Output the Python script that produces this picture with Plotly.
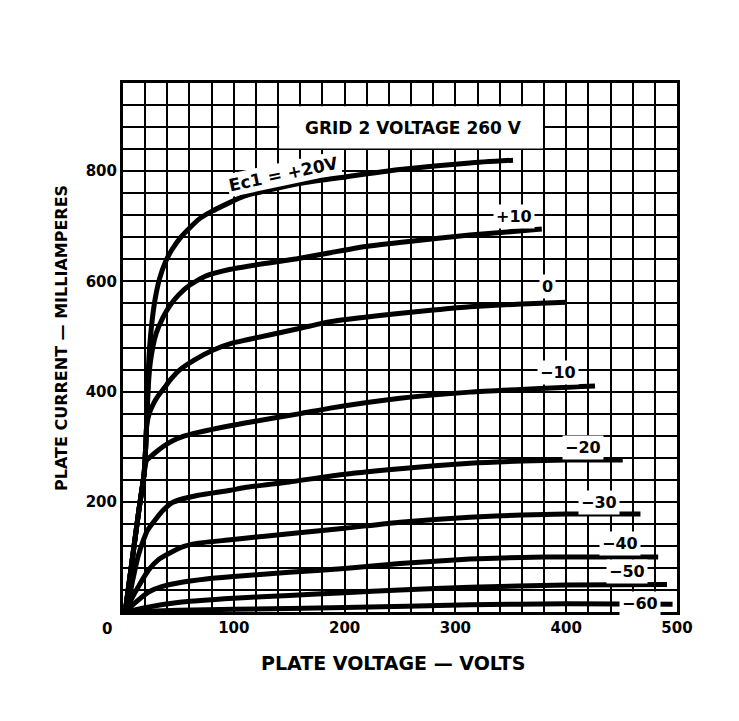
import plotly.graph_objects as go

# ---- data (plate voltage V, plate current mA) ----
v_p20 = [2, 8, 14, 19, 20.5, 21.5, 22.6, 24, 26, 29, 33, 38, 44, 53, 68, 80, 110, 160, 202, 250, 313, 352]
i_p20 = [0, 90, 180, 250, 300, 350, 430, 480, 524, 568, 605, 634, 657, 682, 712, 727, 755, 778, 790, 803, 815, 820]

v_p10 = [2, 8, 14, 19, 20.5, 21.5, 23, 24.5, 27, 30, 36, 42, 50, 60, 75, 97, 130, 157, 187, 217, 260, 313, 378]
i_p10 = [0, 90, 180, 250, 300, 350, 415, 450, 482, 506, 534, 555, 575, 593, 610, 622, 633, 641, 652, 663, 673, 684, 695]

v_0 = [2, 8, 14, 19, 20.5, 21.5, 24, 28, 32, 37, 43, 51, 65, 81, 97, 112, 160, 187, 240, 280, 313, 360, 400]
i_0 = [0, 90, 180, 250, 300, 340, 362, 380, 393, 406, 422, 439, 458, 475, 487, 494, 515, 527, 540, 548, 554, 559, 562]

v_m10 = [2, 8, 14, 19, 21, 25, 29, 36, 44, 55, 68, 110, 160, 187, 250, 313, 426]
i_m10 = [0, 90, 180, 250, 274, 282, 289, 300, 310, 319, 326, 343, 360, 370, 388, 399, 410]

v_m20 = [2, 4.5, 9, 13.5, 18, 22, 29, 36, 44, 55, 68, 97, 110, 150, 200, 250, 313, 360, 400, 451]
i_m20 = [0, 16, 60, 100, 128, 148, 167, 184, 198, 206, 212, 221, 226, 236, 250, 260, 270, 274, 276, 276]

v_m30 = [2, 8, 15, 23, 32, 44, 55, 68, 97, 110, 150, 200, 250, 313, 360, 400, 467]
i_m30 = [0, 25, 50, 76, 95, 109, 119, 125, 131, 134, 142, 152, 163, 172, 176, 178, 178]

v_m40 = [2, 10, 23, 35, 53, 75, 97, 150, 200, 250, 313, 360, 400, 483]
i_m40 = [0, 15, 36, 46, 54, 60, 64, 72, 79, 88, 96, 99, 100, 100]

v_m50 = [2, 20, 53, 100, 150, 200, 250, 313, 400, 491]
i_m50 = [0, 8, 18, 25, 30, 35, 40, 45, 49, 50]

v_m60 = [2, 50, 100, 200, 313, 400, 496]
i_m60 = [0, 3, 5, 8, 13, 15, 14]

curve_labels = ["+10", "0", "\u221210", "\u221220", "\u221230", "\u221240", "\u221250", "\u221260"]
label_v = [353, 383, 393, 415, 430, 449, 455, 467]
label_i = [717, 590, 434, 298, 198, 125, 74, 16]

x_tick_vals = [100, 200, 300, 400, 500]
y_tick_vals = [200, 400, 600, 800]

FONT = "DejaVu Sans"

fig = go.Figure()
for vv, ii in [(v_p20, i_p20), (v_p10, i_p10), (v_0, i_0), (v_m10, i_m10), (v_m20, i_m20),
               (v_m30, i_m30), (v_m40, i_m40), (v_m50, i_m50), (v_m60, i_m60)]:
    fig.add_trace(go.Scatter(x=vv, y=ii, mode="lines",
                             line=dict(color="black", width=5, shape="spline", smoothing=0.5),
                             showlegend=False, hoverinfo="skip"))

# white box behind the grid-2 note
fig.add_shape(type="rect", x0=141, x1=379, y0=841, y1=918, fillcolor="white",
              line=dict(width=0), layer="above")
fig.add_annotation(x=262, y=879, text="GRID 2 VOLTAGE 260 V", showarrow=False,
                   font=dict(family=FONT, size=17, color="black", weight="bold"))

fig.add_annotation(x=145, y=794, text="Ec1 = +20V", showarrow=False, textangle=-12,
                   bgcolor="white", borderpad=1,
                   font=dict(family=FONT, size=17, color="black", weight="bold"))

for t, xv, yv in zip(curve_labels, label_v, label_i):
    fig.add_annotation(x=xv, y=yv, text=t, showarrow=False, bgcolor="white", borderpad=2,
                       font=dict(family=FONT, size=16, color="black", weight="bold"))

# corner zero
fig.add_annotation(xref="paper", yref="paper", x=-0.029, y=-0.032, text="0", showarrow=False,
                   xanchor="center", yanchor="middle",
                   font=dict(family=FONT, size=15, color="black", weight="bold"))
# y title
fig.add_annotation(xref="paper", yref="paper", x=-0.110, y=0.518,
                   text="PLATE CURRENT \u2014 MILLIAMPERES", textangle=-90, showarrow=False,
                   xanchor="center", yanchor="middle",
                   font=dict(family=FONT, size=16, color="black", weight="bold"))
# x title
fig.add_annotation(xref="paper", yref="paper", x=0.487, y=-0.096,
                   text="PLATE VOLTAGE \u2014 VOLTS", showarrow=False,
                   xanchor="center", yanchor="middle",
                   font=dict(family=FONT, size=19, color="black", weight="bold"))

fig.update_xaxes(range=[0, 500], tickmode="array", tickvals=x_tick_vals,
                 showgrid=True, gridcolor="black", gridwidth=2,
                 minor=dict(dtick=20, tick0=0, showgrid=True, gridcolor="black", gridwidth=2),
                 showline=True, linecolor="black", linewidth=3, mirror=True,
                 ticks="", zeroline=False,
                 tickfont=dict(family=FONT, size=15, color="black", weight="bold"))
fig.update_yaxes(range=[0, 960], tickmode="array", tickvals=y_tick_vals,
                 showgrid=True, gridcolor="black", gridwidth=2,
                 minor=dict(dtick=40, tick0=0, showgrid=True, gridcolor="black", gridwidth=2),
                 showline=True, linecolor="black", linewidth=3, mirror=True,
                 ticks="", zeroline=False,
                 tickfont=dict(family=FONT, size=15, color="black", weight="bold"))

fig.update_layout(width=739, height=721, autosize=False,
                  margin=dict(l=115, r=70, t=75, b=117),
                  paper_bgcolor="white", plot_bgcolor="white")

fig.write_html("out.html")
